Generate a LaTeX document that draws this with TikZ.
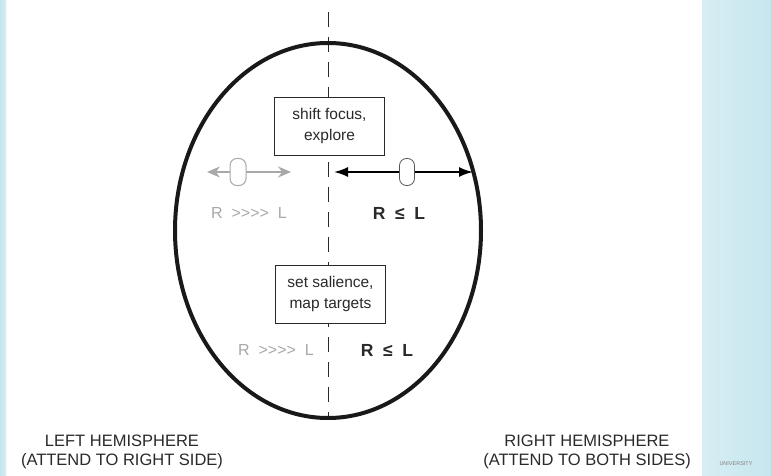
\documentclass[tikz,border=0pt]{standalone}
\usepackage{fontspec}
\setmainfont{Liberation Sans}
\newfontfamily\plainsans{Liberation Sans}
\usetikzlibrary{shapes.geometric,arrows.meta}
\definecolor{panelblue}{HTML}{D6EEF4}
\definecolor{panelblueb}{HTML}{C6E6EE}
\definecolor{softgrey}{HTML}{A8A8A8}
\definecolor{inkgrey}{HTML}{2A2A2A}
\tikzset{
  labeltxt/.style={font=\fontsize{16.5}{19}\selectfont, inner sep=0pt, align=center, text=inkgrey},
  boxtxt/.style={draw=inkgrey, line width=0.8pt, fill=white, minimum width=110pt, minimum height=58pt,
     inner sep=0pt, align=center, font=\fontsize{15.5}{21}\selectfont, text=inkgrey},
  capsule/.style={rounded corners=7pt, minimum width=16pt, minimum height=27pt, inner sep=0pt, fill=white},
  greytxt/.style={font=\plainsans\fontsize{16}{18}\selectfont, text=softgrey, inner sep=0pt},
  boldtxt/.style={font=\fontsize{17.5}{20}\selectfont\bfseries, text=inkgrey, inner sep=0pt},
  midline/.style={draw=inkgrey, line width=1pt, dash pattern=on 15pt off 10pt},
}
\begin{document}
\begin{tikzpicture}[x=1pt,y=-1pt]
\useasboundingbox (0,0) rectangle (771,476);
\fill[white] (0,0) rectangle (771,476);
% side panels
\shade[left color=panelblue, right color=panelblueb] (702,0) rectangle (771,476);
\shade[left color=panelblueb, right color=panelblue] (0,0) rectangle (6,476);
% midline
\coordinate (mtop) at (328,12);
\coordinate (mbot) at (328,420);
\draw[midline] (mtop) -- (mbot);
% ellipse
\node[draw=black!90, line width=4pt, ellipse, minimum width=306pt, minimum height=375pt, inner sep=0pt] (brain) at (328,230.5) {};
% boxes
\node[boxtxt] (shift) at (329.5,126) {shift focus,\\explore};
\node[boxtxt] (sal) at (330.5,294) {set salience,\\map targets};
% grey arrow (left hemisphere)
\coordinate (gl) at (207,172);
\coordinate (gr) at (291,172);
\draw[softgrey, line width=1.4pt, {Stealth[length=13pt,width=11pt]}-{Stealth[length=13pt,width=11pt]}] (gl) -- (gr);
\node[capsule, draw=softgrey, line width=1pt] (gcap) at (238,172) {};
% black arrow (right hemisphere)
\coordinate (bl) at (334,172);
\coordinate (br) at (473,172);
\draw[black, line width=1.8pt, {Latex[length=14pt,width=10pt]}-{Latex[length=14pt,width=10pt]}] (bl) -- (br);
\node[capsule, draw=inkgrey!80, line width=0.8pt, minimum width=15pt] (bcap) at (407,172) {};
% ratio labels
\node[greytxt] (r1l) at (249,213) {R\ \ >>>>\ \ L};
\node[boldtxt] (r1r) at (399,213) {R\ \ ≤\ \ L};
\node[greytxt] (r2l) at (276,350) {R\ \ >>>>\ \ L};
\node[boldtxt] (r2r) at (387,350) {R\ \ ≤\ \ L};
% hemisphere labels
\node[labeltxt] (lefth) at (122,452) {LEFT HEMISPHERE\\(ATTEND TO RIGHT SIDE)};
\node[labeltxt] (righth) at (587,452) {RIGHT HEMISPHERE\\(ATTEND TO BOTH SIDES)};
\node[font=\fontsize{5.5}{6}\selectfont, text=gray, inner sep=0pt] (univ) at (736,464) {UNIVERSITY};
\end{tikzpicture}
\end{document}
